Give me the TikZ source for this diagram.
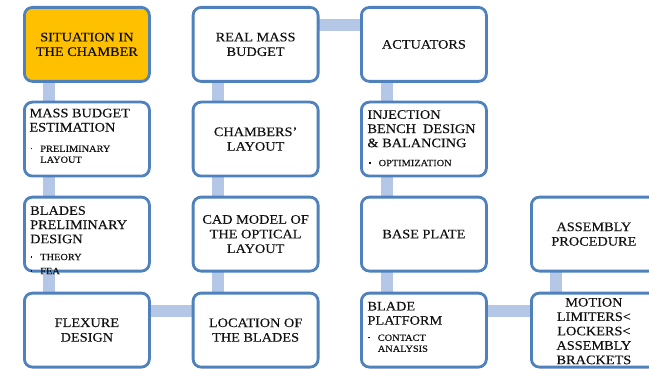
\documentclass[tikz,border=0pt]{standalone}
\usepackage{fontspec}
\setmainfont{Liberation Serif}[FakeStretch=1.1, FakeBold=0.25]
\usetikzlibrary{backgrounds}
\definecolor{edge}{HTML}{4F81BD}
\definecolor{link}{HTML}{B4C7E7}
\definecolor{gold}{HTML}{FFC000}
\definecolor{ink}{HTML}{111111}
\tikzset{
  box/.style={draw=edge, line width=2.8pt, rounded corners=8pt, fill=white,
    minimum width=125pt, minimum height=74pt, inner sep=0pt, outer sep=0pt,
    anchor=north west},
  head/.style={font=\fontsize{13}{14.6}\selectfont, text=ink, align=center, inner sep=0pt},
  lhead/.style={font=\fontsize{13}{14.2}\selectfont, text=ink, align=left, inner sep=0pt,
    anchor=north west},
  sub/.style={font=\fontsize{9.4}{11}\selectfont, text=ink, inner sep=0pt, anchor=north west},
  bar/.style={draw=link, line width=12pt},
}
% bullet list: dot column, then item text
\newcommand{\dotmark}{\raisebox{2.4pt}{\rule{1.7pt}{1.7pt}}}
\newcommand{\itemlist}[1]{\begin{tabular}{@{}l@{\hspace{8pt}}l@{}}#1\end{tabular}}
\begin{document}
\begin{tikzpicture}
\useasboundingbox (0,0) rectangle (649pt,-369pt);
\clip (0,0) rectangle (649pt,-369pt);

% column 1
\node[box, fill=gold] (b1) at (24.4pt,-7.4pt) {};
\node[box] (b2) at (24.4pt,-102.1pt) {};
\node[box] (b3) at (24.4pt,-197.1pt) {};
\node[box] (b4) at (24.4pt,-293.1pt) {};
% column 2
\node[box] (c1) at (193.1pt,-7.4pt) {};
\node[box] (c2) at (193.1pt,-102.1pt) {};
\node[box] (c3) at (193.1pt,-197.1pt) {};
\node[box] (c4) at (193.1pt,-293.1pt) {};
% column 3
\node[box] (d1) at (361.4pt,-7.4pt) {};
\node[box] (d2) at (361.4pt,-102.1pt) {};
\node[box] (d3) at (361.4pt,-197.1pt) {};
\node[box] (d4) at (361.4pt,-293.1pt) {};
% column 4
\node[box] (e3) at (531.4pt,-197.1pt) {};
\node[box] (e4) at (531.4pt,-293.1pt) {};

% connecting bars behind the boxes
\begin{scope}[on background layer]
  \draw[bar] ([xshift=25pt]b1.south west) -- ([xshift=25pt]b2.north west);
  \draw[bar] ([xshift=25pt]b2.south west) -- ([xshift=25pt]b3.north west);
  \draw[bar] ([xshift=25pt]b3.south west) -- ([xshift=25pt]b4.north west);
  \draw[bar] ([yshift=-18pt]b4.north east) -- ([yshift=-18pt]c4.north west);
  \draw[bar] ([xshift=25pt]c4.north west) -- ([xshift=25pt]c3.south west);
  \draw[bar] ([xshift=25pt]c3.north west) -- ([xshift=25pt]c2.south west);
  \draw[bar] ([xshift=25pt]c2.north west) -- ([xshift=25pt]c1.south west);
  \draw[bar] ([yshift=-17.5pt]c1.north east) -- ([yshift=-17.5pt]d1.north west);
  \draw[bar] ([xshift=25.5pt]d1.south west) -- ([xshift=25.5pt]d2.north west);
  \draw[bar] ([xshift=25.5pt]d2.south west) -- ([xshift=25.5pt]d3.north west);
  \draw[bar] ([xshift=25.5pt]d3.south west) -- ([xshift=25.5pt]d4.north west);
  \draw[bar] ([yshift=-18pt]d4.north east) -- ([yshift=-18pt]e4.north west);
  \draw[bar] ([xshift=25pt]e4.north west) -- ([xshift=25pt]e3.south west);
\end{scope}

% labels
\node[head] (tb1) at (b1.center) {SITUATION IN\\THE CHAMBER};
\node[lhead] (tb2) at ([shift={(4.9pt,-6.4pt)}]b2.north west) {MASS BUDGET\\ESTIMATION};
\node[sub] (sb2) at ([shift={(6pt,-41.8pt)}]b2.north west) {\itemlist{\dotmark&PRELIMINARY\\&LAYOUT}};
\node[lhead] (tb3) at ([shift={(5.6pt,-8.9pt)}]b3.north west) {BLADES\\PRELIMINARY\\DESIGN};
\node[sub] (sb3) at ([shift={(6pt,-55.1pt)}]b3.north west) {\itemlist{\dotmark&THEORY\\[3pt]\dotmark&FEA}};
\node[head] (tb4) at (b4.center) {FLEXURE\\DESIGN};

\node[head] (tc1) at (c1.center) {REAL MASS\\BUDGET};
\node[head] (tc2) at (c2.center) {CHAMBERS’\\LAYOUT};
\node[head] (tc3) at (c3.center) {CAD MODEL OF\\THE OPTICAL\\LAYOUT};
\node[head] (tc4) at (c4.center) {LOCATION OF\\THE BLADES};

\node[head] (td1) at (d1.center) {ACTUATORS};
\node[lhead] (td2) at ([shift={(5.9pt,-7.9pt)}]d2.north west) {INJECTION\\BENCH\ \ DESIGN\\\& BALANCING};
\node[sub] (sd2) at ([shift={(7.4pt,-56.1pt)}]d2.north west) {\itemlist{\dotmark&OPTIMIZATION}};
\node[head] (td3) at (d3.center) {BASE PLATE};
\node[lhead] (td4) at ([shift={(5.9pt,-8.6pt)}]d4.north west) {BLADE\\PLATFORM};
\node[sub] (sd4) at ([shift={(6.5pt,-39.8pt)}]d4.north west) {\itemlist{\dotmark&CONTACT\\&ANALYSIS}};

\node[head] (te3) at (e3.center) {ASSEMBLY\\PROCEDURE};
\node[head, font=\fontsize{13}{14.4}\selectfont] (te4) at ([yshift=-1pt]e4.center) {MOTION\\LIMITERS<\\LOCKERS<\\ASSEMBLY\\BRACKETS};
\end{tikzpicture}
\end{document}
